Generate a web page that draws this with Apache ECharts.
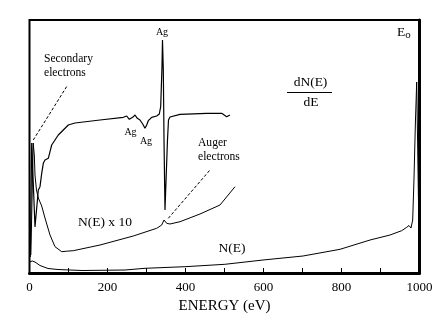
<!DOCTYPE html>
<html>
<head>
<meta charset="utf-8">
<script src="https://cdn.jsdelivr.net/npm/echarts@6/dist/echarts.min.js"></script>
<style>
html,body{margin:0;padding:0;background:#fff;}
#chart{width:445px;height:329px;}
</style>
</head>
<body>
<div id="chart"></div>
<script>
// Energy (eV) and intensity (arbitrary units)
var xTickLabels = ['0', '200', '400', '600', '800', '1000'];

var nE_E = [0, 7.2, 14.1, 26.9, 47.4, 73.1, 134.6, 244.9, 296.1, 398.7, 501, 598.7, 701.3, 796.2, 873.2, 924.5, 954.3, 967.2, 973, 978.2, 982.5, 985.8, 989.7, 992.8, 1000];
var nE_V = [11, 12, 11, 7.5, 4.5, 3.5, 2.5, 3, 4.7, 6.3, 8.7, 13, 17, 23.7, 33, 38, 42.3, 45.7, 47.5, 45, 53, 93, 153, 191, 3];

var nE10_E = [3.5, 9.5, 12.3, 14.1, 17.9, 22.6, 31.3, 39.7, 52.6, 65.4, 82.6, 95.4, 112.3, 180.8, 266.1, 326.1, 339, 344.9, 351.8, 360.2, 385.9, 437.2, 488.5, 527];
var nE10_V = [18, 130, 118, 98, 83, 75, 67, 55, 38, 26.3, 21.3, 21.8, 22.3, 28, 37, 44.7, 48, 53, 49.7, 49, 51.3, 59, 68, 86.3];

var dNdE_E = [2.0, 5.6, 7.2, 14.1, 22.6, 26.9, 31.3, 35.4, 39.7, 44.1, 48.2, 52.6, 56.9, 65.4, 73.8, 86.7, 99.5, 116.7, 121.8, 180.8, 240.5, 249.2, 255.9, 264.6, 270.5, 276.4, 283.3, 290.2, 296.1, 300.5, 304.6, 313.3, 326.1, 332.8, 336.4, 339.7, 341.0, 343.1, 344.9, 347.4, 351.3, 353.8, 356.4, 360.2, 364.6, 385.9, 454.3, 492.8, 505.6, 514.1];
var dNdE_V = [16, 130, 128, 46, 83, 86.3, 99.7, 109.7, 113, 111.3, 114.7, 121.3, 128, 133, 138, 143, 148, 150, 151, 153, 155.7, 157, 153.7, 155.7, 158, 154.7, 153, 149, 144.7, 148, 152.3, 155.7, 157, 159, 166.3, 206.3, 233, 203, 133, 63, 61, 133, 153, 156, 158, 158.7, 159.7, 159.7, 156.3, 158];

var secPointer_E = [9.7, 96.2];
var secPointer_V = [133, 187];
var augPointer_E = [355.9, 462.8];
var augPointer_V = [54.7, 103];

function pairs(xs, ys) { return xs.map(function (x, i) { return [x, ys[i]]; }); }

var serif = '"Liberation Serif", "DejaVu Serif", serif';
var chart = echarts.init(document.getElementById('chart'));
var lineBase = { type: 'line', symbol: 'none', smooth: false, silent: true, animation: false };

chart.setOption({
  backgroundColor: '#fff',
  animation: false,
  grid: { left: 29.5, right: 25.5, top: 20, bottom: 56, show: true, borderColor: '#000', borderWidth: 2, backgroundColor: 'transparent' },
  xAxis: {
    type: 'value', min: 0, max: 1000, interval: 100,
    axisLine: { show: true, onZero: false, lineStyle: { color: '#000', width: 3 } },
    axisTick: { show: true, inside: true, length: 5, lineStyle: { color: '#000', width: 1 } },
    splitLine: { show: false },
    axisLabel: {
      margin: 8, color: '#000', fontFamily: serif, fontSize: 13,
      formatter: function (v) { var i = xTickLabels.indexOf(String(v)); return i >= 0 ? xTickLabels[i] : ''; }
    },
    name: 'ENERGY (eV)', nameLocation: 'middle', nameGap: 26,
    nameTextStyle: { color: '#000', fontFamily: serif, fontSize: 15 }
  },
  yAxis: [
    { type: 'value', min: 0, max: 253, show: true, axisLine: { show: false }, axisTick: { show: false }, axisLabel: { show: false }, splitLine: { show: false } },
    { type: 'value', min: 0, max: 253, position: 'right', show: true, axisLine: { show: true, lineStyle: { color: '#000', width: 3 } }, axisTick: { show: false }, axisLabel: { show: false }, splitLine: { show: false } }
  ],
  series: [
    Object.assign({}, lineBase, { name: 'N(E)', data: pairs(nE_E, nE_V), lineStyle: { color: '#000', width: 1 } }),
    Object.assign({}, lineBase, { name: 'N(E) x 10', data: pairs(nE10_E, nE10_V), lineStyle: { color: '#000', width: 1 } }),
    Object.assign({}, lineBase, { name: 'dN(E)/dE', data: pairs(dNdE_E, dNdE_V), lineStyle: { color: '#000', width: 1.2 } }),
    Object.assign({}, lineBase, { name: 'sec', data: pairs(secPointer_E, secPointer_V), lineStyle: { color: '#000', width: 1, type: [3, 2] } }),
    Object.assign({}, lineBase, { name: 'aug', data: pairs(augPointer_E, augPointer_V), lineStyle: { color: '#000', width: 1, type: [3, 2] } })
  ],
  graphic: [
    { type: 'text', left: 44, top: 52, style: { text: 'Secondary\nelectrons', font: '11.6px ' + serif, fill: '#000', lineHeight: 14 } },
    { type: 'text', x: 162, y: 32, style: { text: 'Ag', font: '10px ' + serif, fill: '#000', align: 'center', verticalAlign: 'middle' } },
    { type: 'text', x: 130.5, y: 132.5, style: { text: 'Ag', font: '10px ' + serif, fill: '#000', align: 'center', verticalAlign: 'middle' } },
    { type: 'text', x: 146, y: 141.5, style: { text: 'Ag', font: '10px ' + serif, fill: '#000', align: 'center', verticalAlign: 'middle' } },
    { type: 'text', x: 310.5, y: 82, style: { text: 'dN(E)', font: '13.5px ' + serif, fill: '#000', align: 'center', verticalAlign: 'middle' } },
    { type: 'line', shape: { x1: 287, y1: 92.5, x2: 332, y2: 92.5 }, style: { stroke: '#000', lineWidth: 1 } },
    { type: 'text', x: 311, y: 102, style: { text: 'dE', font: '13.5px ' + serif, fill: '#000', align: 'center', verticalAlign: 'middle' } },
    { type: 'text', left: 198, top: 136, style: { text: 'Auger\nelectrons', font: '11.6px ' + serif, fill: '#000', lineHeight: 14 } },
    { type: 'text', x: 105, y: 222.5, style: { text: 'N(E) x 10', font: '13.5px ' + serif, fill: '#000', align: 'center', verticalAlign: 'middle' } },
    { type: 'text', x: 232, y: 248, style: { text: 'N(E)', font: '13.5px ' + serif, fill: '#000', align: 'center', verticalAlign: 'middle' } },
    { type: 'text', x: 397, y: 32, style: { text: '{a|E}{b|o}', verticalAlign: 'middle', rich: { a: { font: '13.5px ' + serif, fill: '#000' }, b: { font: '11px ' + serif, fill: '#000', padding: [6, 0, 0, 0] } } } }
  ]
});
</script>
</body>
</html>
